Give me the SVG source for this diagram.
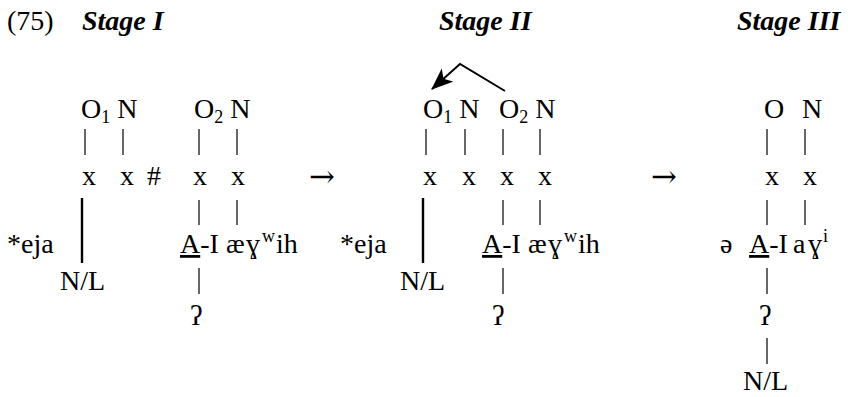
<svg xmlns="http://www.w3.org/2000/svg" width="851" height="397" viewBox="0 0 851 397">
<style>
text{font-family:'Liberation Serif','Times New Roman','DejaVu Serif',serif;font-size:28px;fill:#000}
.h{font-weight:bold;font-style:italic}
.p{stroke:#000;stroke-width:1.2}
.t{stroke:#000;stroke-width:2.4}
.s{font-size:18px}
.ar{font-family:'DejaVu Serif',serif;font-size:31px}
</style>
<defs>
<marker id="ah2" viewBox="0 0 20 16" refX="19" refY="8" markerWidth="22" markerHeight="18" markerUnits="userSpaceOnUse" orient="auto">
<path d="M0,0 L20,8 L0,16 L5,8 Z" fill="#000"/>
</marker>
</defs>
<g id="header">
<text x="7" y="30">(75)</text>
<text class="h" x="82" y="30">Stage I</text>
<text class="h" x="439" y="30">Stage II</text>
<text class="h" x="737" y="30">Stage III</text>
</g>
<g id="stage1">
<text x="81" y="118">O<tspan class="s" dy="5">1</tspan><tspan dy="-5"> N</tspan></text>
<text x="194" y="118">O<tspan class="s" dy="5">2</tspan><tspan dy="-5"> N</tspan></text>
<text x="82" y="185">x</text>
<text x="120" y="185">x</text>
<text x="147" y="185">#</text>
<text x="193" y="185">x</text>
<text x="231" y="185">x</text>
<text x="7" y="253">*eja</text>
<text x="60" y="290">N/L</text>
<text x="180" y="253"><tspan text-decoration="underline">A</tspan>-I</text>
<text x="226" y="253">æ<tspan x="246">ɣ</tspan><tspan x="262" class="s" dy="-11">w</tspan><tspan x="276" dy="11">ih</tspan></text>
<text x="190" y="325">ʔ</text>
</g>
<g id="stage2">
<text x="423" y="118">O<tspan class="s" dy="5">1</tspan><tspan dy="-5"> N</tspan></text>
<text x="499" y="118">O<tspan class="s" dy="5">2</tspan><tspan dy="-5"> N</tspan></text>
<text x="423" y="185">x</text>
<text x="462" y="185">x</text>
<text x="500" y="185">x</text>
<text x="538" y="185">x</text>
<text x="340" y="253">*eja</text>
<text x="400" y="290">N/L</text>
<text x="482" y="253"><tspan text-decoration="underline">A</tspan>-I</text>
<text x="528" y="253">æ<tspan x="548">ɣ</tspan><tspan x="564" class="s" dy="-11">w</tspan><tspan x="578" dy="11">ih</tspan></text>
<text x="492" y="325">ʔ</text>
</g>
<g id="stage3">
<text x="764" y="118">O</text>
<text x="802" y="118">N</text>
<text x="765" y="185">x</text>
<text x="803" y="185">x</text>
<text x="720" y="253">ə</text>
<text x="749" y="253"><tspan text-decoration="underline">A</tspan>-I</text>
<text x="793" y="253">a</text>
<text x="808" y="253">ɣ<tspan x="823" class="s" dy="-11">i</tspan></text>
<text x="759" y="325">ʔ</text>
<text x="743" y="390">N/L</text>
</g>
<g id="transitions">
<text class="ar" x="309" y="187">→</text>
<text class="ar" x="651" y="187">→</text>
</g>
<g id="connectors">
<line class="p" x1="85" y1="129" x2="85" y2="155"/>
<line class="p" x1="123" y1="129" x2="123" y2="155"/>
<line class="p" x1="199" y1="129" x2="199" y2="155"/>
<line class="p" x1="237" y1="129" x2="237" y2="155"/>
<line class="t" x1="82" y1="198" x2="82" y2="263"/>
<line class="p" x1="199" y1="200" x2="199" y2="225"/>
<line class="p" x1="237" y1="200" x2="237" y2="225"/>
<line class="p" x1="199" y1="268" x2="199" y2="294"/>
<line class="p" x1="426" y1="129" x2="426" y2="155"/>
<line class="p" x1="465" y1="129" x2="465" y2="155"/>
<line class="p" x1="503" y1="129" x2="503" y2="155"/>
<line class="p" x1="540" y1="129" x2="540" y2="155"/>
<line class="t" x1="423" y1="198" x2="423" y2="263"/>
<line class="p" x1="503" y1="200" x2="503" y2="225"/>
<line class="p" x1="540" y1="200" x2="540" y2="225"/>
<line class="p" x1="503" y1="268" x2="503" y2="294"/>
<polyline points="505,91 460,64 432,89" fill="none" stroke="#000" stroke-width="2" marker-end="url(#ah2)"/>
<line class="p" x1="767" y1="129" x2="767" y2="155"/>
<line class="p" x1="805" y1="129" x2="805" y2="155"/>
<line class="p" x1="767" y1="200" x2="767" y2="225"/>
<line class="p" x1="805" y1="200" x2="805" y2="225"/>
<line class="p" x1="767" y1="268" x2="767" y2="294"/>
<line class="p" x1="767" y1="338" x2="767" y2="364"/>
</g>
</svg>
